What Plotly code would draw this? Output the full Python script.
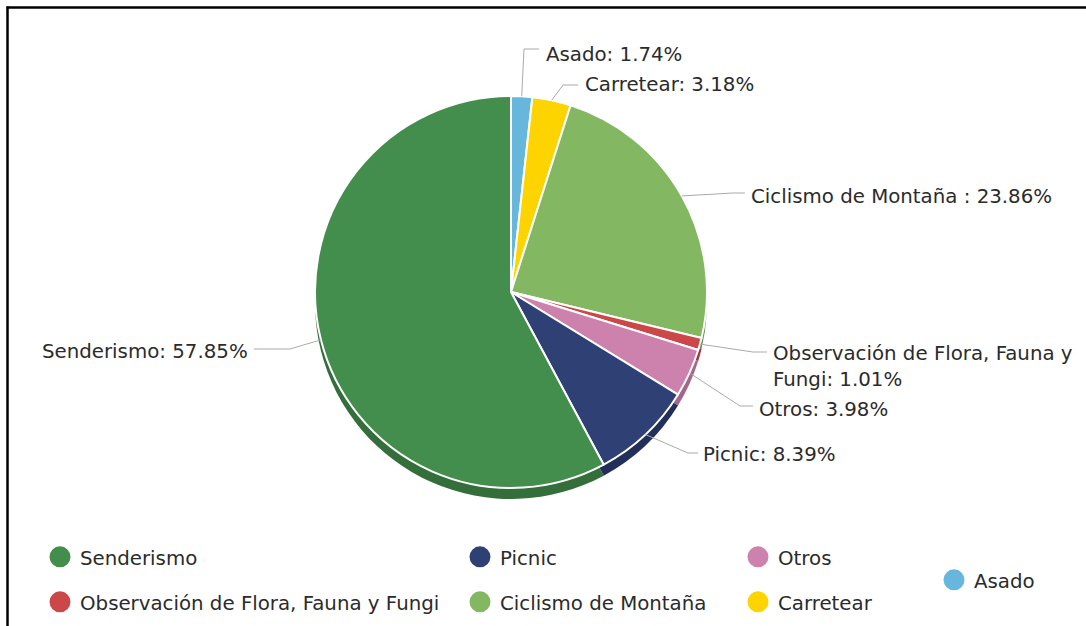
import math
import plotly.graph_objects as go

# ---------------- data ----------------
categories = ["Asado", "Carretear", "Ciclismo de Montaña",
              "Observación de Flora, Fauna y Fungi", "Otros", "Picnic", "Senderismo"]
percentages = [1.74, 3.18, 23.86, 1.01, 3.98, 8.39, 57.85]
label_texts = ["Asado: 1.74%", "Carretear: 3.18%", "Ciclismo de Montaña : 23.86%",
               "Observación de Flora, Fauna y<br>Fungi: 1.01%", "Otros: 3.98%",
               "Picnic: 8.39%", "Senderismo: 57.85%"]
legend_order = ["Senderismo", "Observación de Flora, Fauna y Fungi", "Picnic",
                "Ciclismo de Montaña", "Otros", "Carretear", "Asado"]

# ---------------- styling ----------------
top_colors = ["#67b7dc", "#fdd400", "#84b761", "#cc4748", "#cd82ad", "#2f4074", "#448e4d"]
side_colors = ["#4f92b2", "#c9a900", "#66914a", "#9e3536", "#a3678b", "#222f58", "#346e3b"]
FONT = "DejaVu Sans"
TXT = "#2b2b2b"
FS = 19.8

W, H = 1086, 626


def fx(px):
    return px / W


def fy(py):
    return 1 - py / H


CX, CY, R, DEPTH = 511, 292, 196, 11

# label layout (page px): text anchor x, y, anchor side, elbow, end of leader
label_layout = [
    dict(tx=544, ty=54, xa="left", elbow=(524, 49), end=(539, 49)),
    dict(tx=583, ty=85, xa="left", elbow=(563, 85), end=(578, 85)),
    dict(tx=749, ty=196, xa="left", elbow=(733, 193), end=(745, 193)),
    dict(tx=771, ty=366, xa="left", elbow=(753, 352), end=(767, 352)),
    dict(tx=757, ty=409, xa="left", elbow=(740, 406), end=(753, 406)),
    dict(tx=701, ty=455, xa="left", elbow=(688, 453), end=(698, 453)),
    dict(tx=250, ty=351, xa="right", elbow=(290, 349), end=(254, 349)),
]
legend_layout = {
    "Senderismo": (80, 557),
    "Observación de Flora, Fauna y Fungi": (80, 602),
    "Picnic": (500, 557),
    "Ciclismo de Montaña": (500, 602),
    "Otros": (778, 557),
    "Carretear": (778, 602),
    "Asado": (974, 580),
}

fig = go.Figure()

# side (depth) pie
fig.add_trace(go.Pie(
    values=percentages, labels=categories, sort=False, direction="clockwise", rotation=0,
    marker=dict(colors=side_colors, line=dict(width=0)),
    textinfo="none", hoverinfo="skip", showlegend=False,
    domain=dict(x=[fx(CX - R), fx(CX + R)], y=[fy(CY + R + DEPTH), fy(CY - R + DEPTH)]),
))
# top pie
fig.add_trace(go.Pie(
    values=percentages, labels=categories, sort=False, direction="clockwise", rotation=0,
    marker=dict(colors=top_colors, line=dict(color="white", width=2)),
    textinfo="none", hoverinfo="label+percent", showlegend=False,
    domain=dict(x=[fx(CX - R), fx(CX + R)], y=[fy(CY + R), fy(CY - R)]),
))

# labels with leader lines
total = sum(percentages)
cum = 0.0
shapes = []
annotations = []
for v, txt, lay in zip(percentages, label_texts, label_layout):
    theta = 2 * math.pi * (cum + v / 2) / total
    cum += v
    ex = CX + R * math.sin(theta)
    ey = CY - R * math.cos(theta)
    (bx, by), (qx, qy) = lay["elbow"], lay["end"]
    shapes.append(dict(type="path", xref="paper", yref="paper",
                       path=f"M {fx(ex)},{fy(ey)} L {fx(bx)},{fy(by)} L {fx(qx)},{fy(qy)}",
                       line=dict(color="#aaaaaa", width=1)))
    annotations.append(dict(text=txt, x=fx(lay["tx"]), y=fy(lay["ty"]), xref="paper", yref="paper",
                            xanchor=lay["xa"], yanchor="middle", showarrow=False, align="left",
                            font=dict(family=FONT, size=FS, color=TXT)))

# chart frame (left and top edges)
shapes.append(dict(type="line", xref="paper", yref="paper", x0=fx(7.5), x1=fx(7.5), y0=0, y1=fy(6.5),
                   line=dict(color="black", width=2.5)))
shapes.append(dict(type="line", xref="paper", yref="paper", x0=fx(6.5), x1=1, y0=fy(7.5), y1=fy(7.5),
                   line=dict(color="black", width=2.5)))

# legend entries (one legend per entry for exact placement)
legends = {}
for i, name in enumerate(legend_order):
    col = top_colors[categories.index(name)]
    key = "legend" if i == 0 else f"legend{i + 1}"
    fig.add_trace(go.Scatter(
        x=[None], y=[None], mode="markers", name=name, legend=key,
        marker=dict(size=16, color=col, line=dict(color=col, width=5)),
    ))
    tx, ty = legend_layout[name]
    legends[key] = dict(x=fx(tx - 40), y=fy(ty), xanchor="left", yanchor="middle",
                        orientation="v", bgcolor="rgba(0,0,0,0)",
                        font=dict(family=FONT, size=FS, color=TXT))

fig.update_layout(
    width=W, height=H,
    margin=dict(l=0, r=0, t=0, b=0),
    paper_bgcolor="white", plot_bgcolor="white",
    xaxis=dict(visible=False), yaxis=dict(visible=False),
    shapes=shapes, annotations=annotations,
    font=dict(family=FONT, color=TXT),
    **legends,
)

fig.write_html(
    "out.html",
    config={"displayModeBar": False},
    post_script="document.body.style.margin='0';document.body.style.overflow='hidden';",
)
